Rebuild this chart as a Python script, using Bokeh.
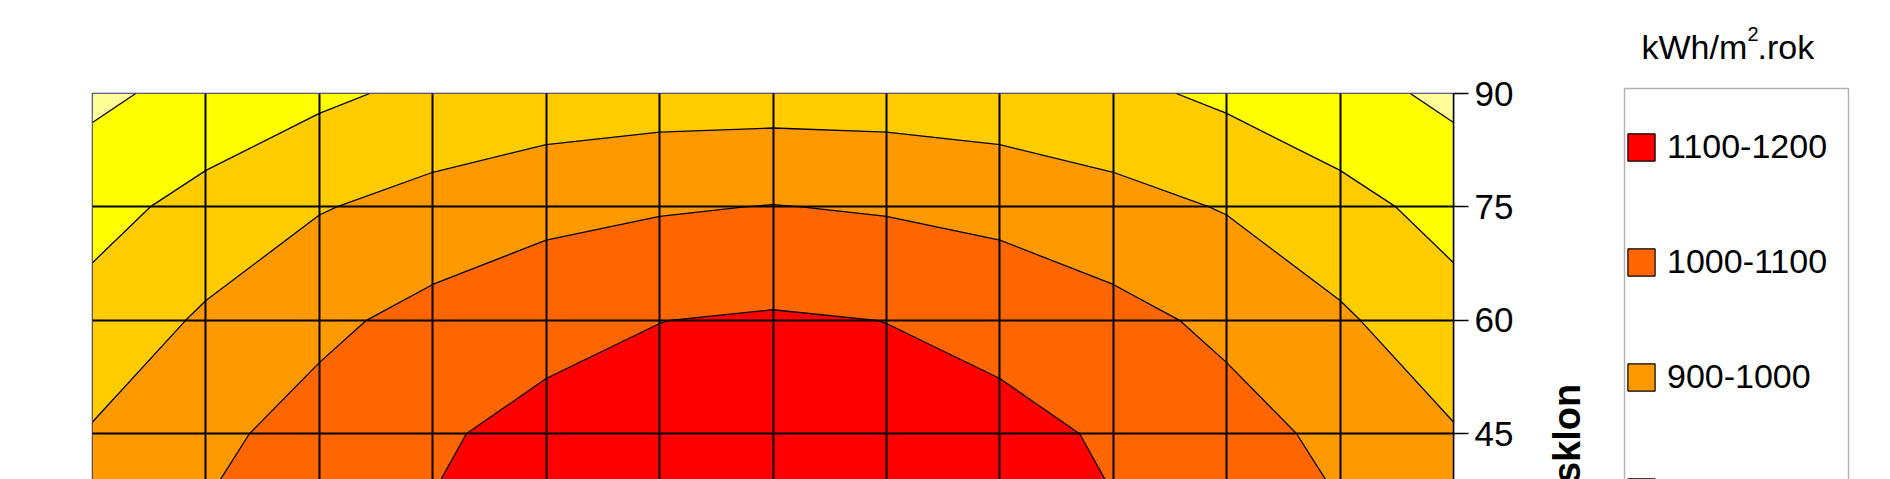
import math
import numpy as np
from bokeh.plotting import figure
from bokeh.layouts import row
from bokeh.core.properties import value
from bokeh.models import (Range1d, FixedTicker, Legend, LegendItem, Label, Grid,
                          ColumnDataSource, BoxAnnotation)
from bokeh.embed import file_html
from bokeh.resources import INLINE

# ---------------- data (annual irradiation, kWh/m2.rok) ----------------
azimuths = [-90, -75, -60, -45, -30, -15, 0, 15, 30, 45, 60, 75, 90]
tilts = [30, 45, 60, 75, 90]
irr_tilt30 = [955, 1015, 1070, 1107, 1140, 1155, 1160, 1155, 1140, 1107, 1070, 1015, 955]
irr_tilt45 = [908, 977, 1037, 1092, 1119, 1135, 1140, 1135, 1119, 1092, 1037, 977, 908]
irr_tilt60 = [831, 915, 978, 1031, 1080, 1099, 1110, 1099, 1080, 1031, 978, 915, 831]
irr_tilt75 = [770, 829, 894, 933, 967, 991, 1003, 991, 967, 933, 894, 829, 770]
irr_tilt90 = [676, 739, 780, 825, 845, 853, 855, 853, 845, 825, 780, 739, 676]
levels = [600, 700, 800, 900, 1000, 1100, 1200]
band_colors = ["#FFFF99", "#FFFF00", "#FFCC00", "#FF9900", "#FF6600", "#FF0000"]
y_ticks = [30, 45, 60, 75, 90]
unit_title_parts = ["kWh/m", "2", ".rok"]   # kWh/m², with a raised 2
y_title = "sklon"

# ---------------- layout (page has no margin) ----------------
H = 479
LEFT, TOP, BOTTOM = 92, 93, 0
FW = 1361
FH = H - TOP - BOTTOM
RIGHT = 80
W1 = LEFT + FW + RIGHT          # main chart
W2 = 1888 - W1                  # side panel with axis title + legend
X0, X1 = -90, 90
Y1 = 90
Y0 = Y1 - FH * 15.0 / (FW / 12.0)   # square 15-degree cells
FONT = "Liberation Sans"
SIDE_X0 = W1                    # page x of the side panel


p = figure(width=W1, height=H, x_range=Range1d(X0, X1), y_range=Range1d(Y0, Y1),
           x_axis_location=None, y_axis_location="right", title=None,
           toolbar_location=None, output_backend="svg",
           min_border_left=LEFT, min_border_top=TOP,
           min_border_right=RIGHT, min_border_bottom=BOTTOM)
p.background_fill_color = "white"
p.border_fill_color = "white"
p.outline_line_color = "#303070"
p.outline_line_width = 1.5

z = np.array([irr_tilt30, irr_tilt45, irr_tilt60, irr_tilt75, irr_tilt90], dtype=float)
p.contour(np.array(azimuths, dtype=float), np.array(tilts, dtype=float), z, levels,
          fill_color=band_colors, line_color="black", line_width=1.3)

for g in p.grid:
    g.visible = False
gx = Grid(dimension=0, ticker=FixedTicker(ticks=azimuths), grid_line_color="black",
          grid_line_width=2, level="overlay")
gy = Grid(dimension=1, ticker=FixedTicker(ticks=y_ticks), grid_line_color="black",
          grid_line_width=2, level="overlay")
p.add_layout(gx)
p.add_layout(gy)

ax = p.yaxis[0]
ax.ticker = FixedTicker(ticks=y_ticks)
ax.major_tick_out = 15
ax.major_tick_in = 0
ax.minor_tick_out = 0
ax.minor_tick_in = 0
ax.major_tick_line_color = "black"
ax.major_tick_line_width = 1.5
ax.axis_line_color = "black"
ax.axis_line_width = 1.5
ax.major_label_standoff = 6
ax.major_label_text_font = FONT
ax.major_label_text_font_size = "35px"
ax.major_label_text_color = "black"

# ---------------- side panel: axis title, unit title, legend ----------------
s = figure(width=W2, height=H, x_range=Range1d(0, W2), y_range=Range1d(H, 0),
           x_axis_location=None, y_axis_location=None, title=None,
           toolbar_location=None, output_backend="svg",
           min_border_left=0, min_border_right=0, min_border_top=0, min_border_bottom=0)
s.outline_line_color = None
s.background_fill_color = "white"
s.border_fill_color = "white"
for g in s.grid:
    g.visible = False

# keep the side panel's frame on its whole canvas (do not align it with the main frame)
try:
    p.frame_align = False
    s.frame_align = False
except (AttributeError, ValueError):
    s.y_range = Range1d(H, TOP)

s.add_layout(Label(x=1566 - SIDE_X0, y=433, text=y_title, angle=math.pi / 2,
                   text_align="center", text_baseline="alphabetic",
                   text_font=FONT, text_font_size="38px", text_font_style="bold",
                   text_color="black"))

# unit title "kWh/m2.rok" with superscript 2
s.text(x=[1641 - SIDE_X0, 1747 - SIDE_X0, 1757 - SIDE_X0], y=[46, 33, 46],
       text=unit_title_parts, text_font_size=["34px", "20px", "34px"],
       text_align="left", text_baseline="alphabetic",
       text_font=value(FONT), text_color="black")

# legend frame
s.add_layout(BoxAnnotation(left=1624 - SIDE_X0, right=1848 - SIDE_X0, top=88, bottom=H + 40,
                           fill_color=None, fill_alpha=0, line_color="black",
                           line_width=1.5, level="overlay"))

# legend proxies: one row per band (value ranges lie outside the side panel's range)
bands = list(zip(levels[:-1], levels[1:], band_colors))[::-1]
band_src = ColumnDataSource(dict(
    lo=[b[0] for b in bands], hi=[b[1] for b in bands],
    color=[b[2] for b in bands],
    label=[f"{b[0]}-{b[1]}" for b in bands]))
proxy = s.quad(left="lo", right="hi", top="lo", bottom="hi", source=band_src,
               fill_color="color", line_color="black", line_width=1.2)
items = [LegendItem(label=lab, renderers=[proxy], index=i)
         for i, lab in enumerate(band_src.data["label"])]

legend = Legend(items=items, location=(1624 - SIDE_X0, -262),
                padding=10, spacing=76, margin=0,
                glyph_width=34, glyph_height=34, label_height=34,
                label_standoff=9,
                label_text_font=FONT, label_text_font_size="34px", label_text_color="black",
                border_line_color=None, background_fill_alpha=0.0)
s.add_layout(legend)

layout = row(p, s, spacing=0)
open("out.html", "w", encoding="utf-8").write(file_html(layout, INLINE))
